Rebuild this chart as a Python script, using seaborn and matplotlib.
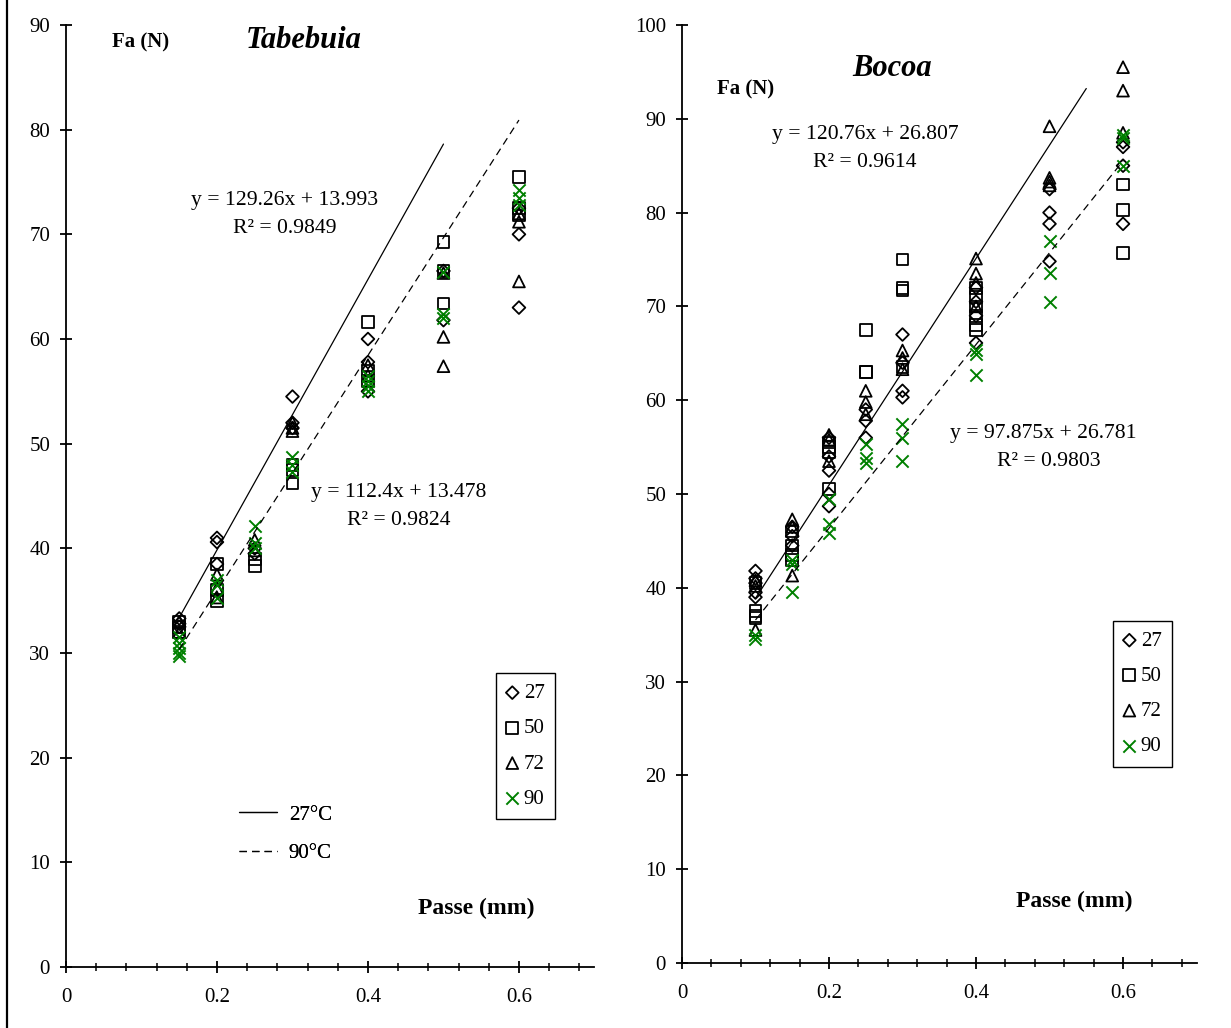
import matplotlib
matplotlib.use("Agg")
import pandas as pd
import matplotlib.pyplot as plt
import seaborn as sns
from matplotlib.lines import Line2D
from matplotlib.ticker import MultipleLocator

temps = ["27", "50", "72", "90"]

# Tabebuia: Fa (N) per passe (mm), one list of repeats per passe value
tab_passe = [0.15, 0.2, 0.25, 0.3, 0.4, 0.5, 0.6]
tab_27 = [[33.3, 32.8, 32.5], [41.0, 40.6, 38.5], [40.0, 39.5], [54.5, 52.0, 51.5],
          [60.0, 57.8, 55.0], [66.5, 61.8], [72.5, 70.0, 63.0]]
tab_50 = [[33.0, 32.5, 32.0], [38.5, 36.0, 35.0], [39.0, 38.3], [48.0, 47.5, 46.2],
          [61.6, 57.0, 56.0], [69.3, 66.5, 63.4], [75.5, 72.5, 71.8]]
tab_72 = [[33.0, 32.0], [37.5, 36.2, 35.3], [40.8, 39.8], [52.0, 51.5, 51.2],
          [57.5, 56.5], [66.3, 60.2, 57.4], [72.0, 71.2, 65.5]]
tab_90 = [[31.5, 31.0, 30.5, 30.0, 29.7], [37.0, 36.5, 35.3], [42.1, 40.5, 40.0],
          [48.7, 48.0, 47.3], [56.5, 56.0, 55.5, 55.0], [66.4, 62.4, 62.0], [74.2, 73.5, 72.8]]

# Bocoa
boc_passe = [0.1, 0.15, 0.2, 0.25, 0.3, 0.4, 0.5, 0.6]
boc_27 = [[41.8, 41.0, 40.5, 39.5, 39.0], [46.5, 45.5, 44.5], [56.0, 54.0, 52.5, 50.0, 48.7],
          [59.0, 57.8, 56.0], [67.0, 64.0, 61.0, 60.3], [72.0, 70.5, 69.0, 66.1],
          [82.5, 80.0, 78.8, 74.8], [87.5, 87.0, 85.0, 78.8]]
boc_50 = [[40.5, 37.5, 37.0, 36.8], [46.0, 44.5, 43.5, 43.0], [55.5, 55.0, 54.5, 50.5],
          [67.5, 63.0, 63.0], [75.0, 72.0, 71.7, 63.5], [72.0, 71.0, 70.0, 69.0, 68.0, 67.5],
          [], [83.0, 80.3, 75.7]]
boc_72 = [[40.8, 40.2, 35.5], [47.3, 46.5, 41.3], [56.3, 55.8, 53.5], [61.0, 59.8, 58.5],
          [65.3, 64.5, 63.3], [75.1, 73.5, 72.5, 70.0], [89.2, 83.7, 83.3, 82.9], [95.5, 93.0, 88.5]]
boc_90 = [[35.0, 34.5], [43.0, 42.5, 39.6], [49.5, 46.8, 45.8], [55.3, 53.8, 53.3],
          [57.5, 56.0, 53.5], [65.3, 64.9, 62.7], [77.0, 73.6, 70.5], [88.3, 88.0, 85.0]]

# Excel trendlines: slope, intercept, x start, x end
tab_fit27 = [129.26, 13.993, 0.15, 0.5]
tab_fit90 = [112.4, 13.478, 0.15, 0.6]
boc_fit27 = [120.76, 26.807, 0.1, 0.55]
boc_fit90 = [97.875, 26.781, 0.1, 0.6]

marker_of = {"27": "D", "50": "s", "72": "^", "90": "x"}
size_of = {"27": 42, "50": 72, "72": 72, "90": 78}
green = "#008000"

sns.set_theme(style="ticks")
plt.rcParams["font.family"] = ["Liberation Serif", "DejaVu Serif"]
plt.rcParams["axes.linewidth"] = 1.3
plt.rcParams["text.color"] = "black"
plt.rcParams["axes.labelcolor"] = "black"
plt.rcParams["xtick.color"] = "black"
plt.rcParams["ytick.color"] = "black"


def to_frame(passe, series):
    rows = []
    for t, groups in zip(temps, series):
        for p, vals in zip(passe, groups):
            for v in vals:
                rows.append((p, v, t))
    return pd.DataFrame(rows, columns=["passe", "fa", "temp"])


def draw_panel(ax, passe, series, fits, ymax):
    df = to_frame(passe, series)
    handles = []
    for t in temps:
        sub = df[df["temp"] == t]
        if t == "90":
            sns.scatterplot(data=sub, x="passe", y="fa", marker="x", s=size_of[t],
                            color=green, linewidth=1.4, ax=ax, label=t)
        else:
            sns.scatterplot(data=sub, x="passe", y="fa", marker=marker_of[t], s=size_of[t],
                            color="black", facecolors="none", edgecolor="black",
                            linewidth=1.3, ax=ax, label=t)
        handles.append(ax.collections[-1])

    line_handles = []
    for fit, ls in zip(fits, ["-", (0, (6, 4))]):
        slope, icpt, x0, x1 = fit
        xs = [x0, x1]
        ys = [slope * x + icpt for x in xs]
        sns.lineplot(x=xs, y=ys, color="black", linewidth=0.9, linestyle=ls, ax=ax)
        line_handles.append(ax.lines[-1])

    ax.set_xlim(0, 0.7)
    ax.set_ylim(0, ymax)
    ax.set_xlabel("")
    ax.set_ylabel("")
    ax.xaxis.set_minor_locator(MultipleLocator(0.04))
    ax.yaxis.set_major_locator(MultipleLocator(10))
    ax.set_xticks([0, 0.2, 0.4, 0.6])
    ax.set_xticklabels(["0", "0.2", "0.4", "0.6"])
    ax.tick_params(axis="x", which="major", direction="inout", length=8.5, width=1.3,
                   pad=10.5, labelsize=15, colors="black")
    ax.tick_params(axis="x", which="minor", direction="inout", length=5.3, width=1.1)
    ax.tick_params(axis="y", which="major", direction="inout", length=8.5, width=1.3,
                   pad=7.2, labelsize=15, colors="black")
    sns.despine(ax=ax)
    ax.spines["left"].set_color("black")
    ax.spines["bottom"].set_color("black")
    return handles, line_handles


fig = plt.figure(figsize=(12.31, 10.28), dpi=100)
ax1 = fig.add_axes([0.0536, 0.0593, 0.4293, 0.9164])
ax2 = fig.add_axes([0.554, 0.0632, 0.418, 0.9125])

h1, l1 = draw_panel(ax1, tab_passe, [tab_27, tab_50, tab_72, tab_90], [tab_fit27, tab_fit90], 90)
h2, l2 = draw_panel(ax2, boc_passe, [boc_27, boc_50, boc_72, boc_90], [boc_fit27, boc_fit90], 100)

leg_kw = dict(loc="upper left", frameon=True, fancybox=False, edgecolor="black",
              fontsize=15, handlelength=0.6, handletextpad=0.25, labelspacing=0.75,
              borderpad=0.5, borderaxespad=0, framealpha=1)
leg1 = ax1.legend(h1, temps, bbox_to_anchor=(0.813, 0.312), **leg_kw)
leg1.get_frame().set_linewidth(1.0)
ax1.add_artist(leg1)
leg1b = ax1.legend(l1, ["27°C", "90°C"], loc="upper left", bbox_to_anchor=(0.327, 0.172),
                   frameon=False, fontsize=15, handlelength=1.85, handletextpad=0.55,
                   labelspacing=0.9, borderpad=0, borderaxespad=0)
ax1.add_artist(leg1b)

leg2 = ax2.legend(h2, temps, bbox_to_anchor=(0.837, 0.365), **leg_kw)
leg2.get_frame().set_linewidth(1.0)

# text annotations
eq_fs = 15.6
ax1.text(0.099, 88.3, "Fa (N)", fontsize=15, fontweight="bold", ha="center", va="center")
ax1.text(0.3146, 88.5, "Tabebuia", fontsize=22, fontweight="bold", style="italic",
         ha="center", va="center")
ax1.text(0.29, 73.2, "y = 129.26x + 13.993", fontsize=eq_fs, ha="center", va="center")
ax1.text(0.29, 70.6, "R² = 0.9849", fontsize=eq_fs, ha="center", va="center")
ax1.text(0.441, 45.3, "y = 112.4x + 13.478", fontsize=eq_fs, ha="center", va="center")
ax1.text(0.441, 42.7, "R² = 0.9824", fontsize=eq_fs, ha="center", va="center")
ax1.text(0.544, 5.6, "Passe (mm)", fontsize=17, fontweight="bold", ha="center", va="center")

ax2.text(0.087, 93.1, "Fa (N)", fontsize=15, fontweight="bold", ha="center", va="center")
ax2.text(0.286, 95.4, "Bocoa", fontsize=22, fontweight="bold", style="italic",
         ha="center", va="center")
ax2.text(0.249, 88.3, "y = 120.76x + 26.807", fontsize=eq_fs, ha="center", va="center")
ax2.text(0.249, 85.3, "R² = 0.9614", fontsize=eq_fs, ha="center", va="center")
ax2.text(0.491, 56.5, "y = 97.875x + 26.781", fontsize=eq_fs, ha="center", va="center")
ax2.text(0.499, 53.5, "R² = 0.9803", fontsize=eq_fs, ha="center", va="center")
ax2.text(0.533, 6.6, "Passe (mm)", fontsize=17, fontweight="bold", ha="center", va="center")

# frame edge on the left of the page
fig.add_artist(Line2D([0.0057, 0.0057], [0, 1], transform=fig.transFigure,
                      color="black", linewidth=1.6))

fig.savefig("out.png", dpi=100)
